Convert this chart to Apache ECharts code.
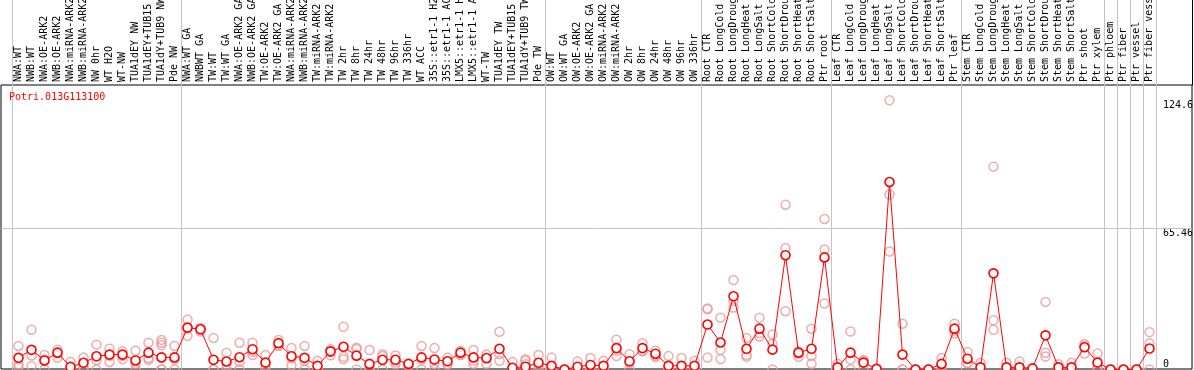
<!DOCTYPE html>
<html>
<head>
<meta charset="utf-8">
<script src="https://cdn.jsdelivr.net/npm/echarts@6/dist/echarts.min.js"></script>
<style>
  html, body { margin: 0; padding: 0; background: #fff; }
  #chart { width: 1194px; height: 370px; }
</style>
</head>
<body>
<div id="chart"></div>
<script>
// sample names, left to right
var categories = [
  'NWA:WT', 'NWB:WT', 'NWA:OE-ARK2', 'NWB:OE-ARK2', 'NWA:miRNA-ARK2', 'NWB:miRNA-ARK2', 'NW 0hr', 'WT H2O', 'WT-NW',
  'TUA1dEY NW', 'TUA1dEY+TUB15 NW', 'TUA1dY+TUB9 NW', 'Pde NW',
  'NWA:WT GA', 'NWBWT GA', 'TW:WT', 'TW:WT GA', 'NWA:OE-ARK2 GA', 'NWB:OE-ARK2 GA', 'TW:OE-ARK2', 'TW:OE-ARK2 GA',
  'NWA:miRNA-ARK2', 'NWB:miRNA-ARK2', 'TW:miRNA-ARK2', 'TW:miRNA-ARK2', 'TW 2hr', 'TW 8hr', 'TW 24hr', 'TW 48hr',
  'TW 96hr', 'TW 336hr', 'WT ACC', '35S::etr1-1 H2O', '35S::etr1-1 ACC', 'LMX5::etr1-1 H2O', 'LMX5::etr1-1 ACC',
  'WT-TW', 'TUA1dEY TW', 'TUA1dEY+TUB15 TW', 'TUA1dY+TUB9 TW', 'Pde TW',
  'OW:WT', 'OW:WT GA', 'OW:OE-ARK2', 'OW:OE-ARK2 GA', 'OW:miRNA-ARK2', 'OW:miRNA-ARK2', 'OW 2hr', 'OW 8hr',
  'OW 24hr', 'OW 48hr', 'OW 96hr', 'OW 336hr',
  'Root CTR', 'Root LongCold', 'Root LongDrought', 'Root LongHeat', 'Root LongSalt', 'Root ShortCold',
  'Root ShortDrought', 'Root ShortHeat', 'Root ShortSalt', 'Ptr root',
  'Leaf CTR', 'Leaf LongCold', 'Leaf LongDrought', 'Leaf LongHeat', 'Leaf LongSalt', 'Leaf ShortCold',
  'Leaf ShortDrought', 'Leaf ShortHeat', 'Leaf ShortSalt', 'Ptr leaf',
  'Stem CTR', 'Stem LongCold', 'Stem LongDrought', 'Stem LongHeat', 'Stem LongSalt', 'Stem ShortCold',
  'Stem ShortDrought', 'Stem ShortHeat', 'Stem ShortSalt', 'Ptr shoot', 'Ptr xylem',
  'Ptr phloem', 'Ptr fiber', 'Ptr vessel', 'Ptr fiber vessel'
];

// first index of every sample group (gray separators)
var groupStarts = [0, 13, 41, 53, 63, 73, 84, 85, 86, 87];

// mean expression per sample
var means = [
  5.4, 9.1, 4.2, 7.8, 1.2, 3.1, 6.1, 6.9, 6.9, 4.2, 7.8, 5.6, 5.6,
  19.4, 18.6, 4.5, 3.7, 5.7, 9.4, 3.2, 12.2, 6.1, 5.4, 1.7, 8.4, 10.5, 6.4, 2.6, 4.5,
  4.5, 2.6, 5.6, 4.6, 3.8, 7.8, 5.6, 5.3, 9.6, 0.8, 1.3, 3.1,
  1.7, 0, 1.3, 2.1, 1.7, 9.9, 3.8, 9.9, 7.3, 1.7, 1.7, 1.7,
  20.8, 12.5, 33.9, 9.6, 18.9, 9.2, 52.9, 7.8, 9.6, 51.9,
  1.0, 7.8, 3.2, 0.3, 86.8, 6.9, 0, 0, 2.6, 18.9,
  5.0, 1.0, 44.5, 1.0, 1.0, 0.5, 15.8, 1.0, 1.0, 10.3, 3.2,
  0, 0, 0, 9.7
];

// individual replicates per sample
var replicates = [
  [10.9, 2.4, 1.2], [18.4, 6.5, 1.5], [6.7, 4.6, 0], [9.2, 5.4, 7.6], [3.5, 0, 0], [5.5, 1.2, 0],
  [11.5, 4.3, 0], [9.6, 3.5, 6.4], [8.4, 4.8, 6.3], [8.7, 2.7, 0], [12.4, 5.3, 4.5], [13.7, 12.4, 11.2, 0, 0],
  [10.9, 4.7, 0],
  [23.1, 15.6, 19.0], [17.6, 19.2, 18.4], [14.6, 0, 0], [7.7, 2.2, 0], [12.4, 3.6, 0], [12.4, 6.7, 8.2],
  [6.7, 1.7, 0], [13.7, 11.0, 11.0], [10.0, 5.2, 2.0], [10.9, 4.0, 0], [4.0, 0, 0], [9.4, 8.0, 6.6],
  [19.8, 5.9, 4.8], [10.1, 9.5, 0], [9.0, 0, 0], [7.1, 6.2, 0], [6.5, 2.4, 3.4], [2.2, 2.0, 2.4],
  [10.9, 4.6, 0], [9.9, 2.6, 0], [5.5, 2.4, 2.4], [8.7, 6.7, 6.8], [9.0, 2.7, 4.0], [6.9, 2.7, 5.0],
  [17.5, 7.1, 4.0], [3.5, 0, 0], [4.8, 4.0, 2.4, 0], [6.7, 1.9, 0],
  [5.5, 0, 0], [0, 0, 0], [3.7, 0, 0], [5.3, 0.3, 0], [4.0, 0, 0], [13.8, 6.2, 8.8], [7.1, 3.0, 0],
  [12.1, 8.4, 8.6], [8.7, 6.5, 5.8], [6.2, 0, 0], [5.3, 0, 0], [4.0, 0, 0],
  [28.2, 5.5, 27.9], [24.0, 9.0, 4.8], [41.4, 28.7, 31.8], [14.6, 6.7, 5.9], [24.0, 15.3, 16.9],
  [16.2, 11.8, 0], [76.3, 56.2, 27.0], [7.4, 5.9, 8.5], [18.9, 2.7, 6.4], [69.7, 55.6, 30.6],
  [2.7, 0, 0], [17.6, 4.6, 0], [4.3, 4.1, 0], [0, 0, 0], [124.6, 81.0, 54.6], [21.2, 0, 0],
  [0, 0, 0], [0, 0, 0], [5.3, 2.0, 0], [21.2, 16.8, 18.0],
  [8.1, 3.1, 2.9], [3.1, 0, 0], [93.9, 22.8, 18.4], [3.1, 0, 0], [3.7, 0, 0], [0, 0, 0],
  [31.3, 7.7, 6.0], [2.4, 0, 0], [3.1, 0, 0], [11.8, 11.0, 7.4], [7.4, 1.3, 0],
  [0, 0, 0], [0, 0, 0], [0, 0, 0], [17.3, 12.1, 0]
];

var yTickLabels = [0, 65.46, 124.6];
var gridValue = 65.46;
var yMax = 131.7;

var geneName = 'Potri.013G113100';

var MONO = 'DejaVu Sans Mono';
var GRAY = '#c4c4c4';

var repPoints = [];
replicates.forEach(function (arr, i) {
  arr.forEach(function (v) { repPoints.push([i, v]); });
});

function isGroupStart(index) {
  return groupStarts.indexOf(index) !== -1;
}

var chart = echarts.init(document.getElementById('chart'));

var option = {
  animation: false,
  title: {
    text: geneName,
    left: 9,
    top: 92,
    padding: 0,
    textStyle: { color: '#ff0000', fontSize: 10, fontFamily: MONO, fontWeight: 'normal' }
  },
  grid: [
    // plot area
    { left: 12, width: 1144, top: 85, bottom: 0.5, outerBoundsMode: 'none', containLabel: false },
    // header with sample names
    { left: 12, width: 1144, top: 0, height: 85, outerBoundsMode: 'none', containLabel: false },
    // outer frame
    { left: 1, right: 2, top: 85, bottom: 1, outerBoundsMode: 'none', containLabel: false,
      show: true, borderColor: '#000', borderWidth: 1, backgroundColor: 'transparent' }
  ],
  xAxis: [
    {
      gridIndex: 0,
      type: 'category',
      data: categories,
      position: 'top',
      boundaryGap: true,
      axisLine: { show: false },
      axisTick: { show: false },
      axisLabel: {
        interval: 0,
        rotate: 90,
        margin: 3,
        color: '#000',
        fontSize: 10,
        fontFamily: MONO
      },
      splitLine: { show: true, interval: isGroupStart, lineStyle: { color: GRAY, width: 1 } }
    },
    {
      gridIndex: 1,
      type: 'category',
      data: categories,
      boundaryGap: true,
      axisLine: { show: false },
      axisTick: { show: false },
      axisLabel: { show: false },
      splitLine: { show: true, interval: isGroupStart, lineStyle: { color: GRAY, width: 1 } }
    },
    { gridIndex: 2, type: 'value', min: 0, max: 1, show: false }
  ],
  yAxis: [
    {
      gridIndex: 0,
      type: 'value',
      position: 'right',
      min: 0,
      max: yMax,
      axisLine: { show: false },
      axisTick: { show: false },
      splitLine: { show: false },
      axisLabel: {
        customValues: yTickLabels,
        margin: 7,
        color: '#000',
        fontSize: 10,
        fontFamily: MONO,
        formatter: function (v) {
          return v === 0 ? '{b|0}' : '{t|' + v + '}';
        },
        rich: {
          t: { padding: [11, 0, 0, 0], fontSize: 10, fontFamily: MONO, color: '#000' },
          b: { padding: [0, 0, 11, 0], fontSize: 10, fontFamily: MONO, color: '#000' }
        }
      }
    },
    {
      gridIndex: 1,
      type: 'value',
      position: 'right',
      offset: 36,
      min: 0,
      max: 1,
      axisLine: { show: true, lineStyle: { color: '#000', width: 1 } },
      axisTick: { show: false },
      axisLabel: { show: false },
      splitLine: { show: false }
    },
    { gridIndex: 2, type: 'value', min: 0, max: yMax, show: false }
  ],
  series: [
    {
      name: 'frame',
      type: 'line',
      xAxisIndex: 2,
      yAxisIndex: 2,
      data: [],
      silent: true,
      markLine: {
        silent: true,
        z: 1,
        symbol: ['none', 'none'],
        label: { show: false },
        lineStyle: { color: GRAY, type: 'solid', width: 1 },
        data: [{ yAxis: gridValue }]
      }
    },
    {
      name: 'replicates',
      type: 'scatter',
      xAxisIndex: 0,
      yAxisIndex: 0,
      data: repPoints,
      symbol: 'circle',
      symbolSize: 9,
      silent: true,
      z: 2,
      itemStyle: { color: 'rgba(0,0,0,0)', borderColor: '#e99a9a', borderWidth: 1.5 }
    },
    {
      name: 'mean',
      type: 'line',
      xAxisIndex: 0,
      yAxisIndex: 0,
      data: means,
      showAllSymbol: true,
      symbol: 'circle',
      symbolSize: 9,
      silent: true,
      z: 3,
      lineStyle: { color: '#ff0000', width: 1 },
      itemStyle: { color: '#ffffff', borderColor: '#ff0000', borderWidth: 1.6 }
    }
  ]
};

chart.setOption(option);
</script>
</body>
</html>
